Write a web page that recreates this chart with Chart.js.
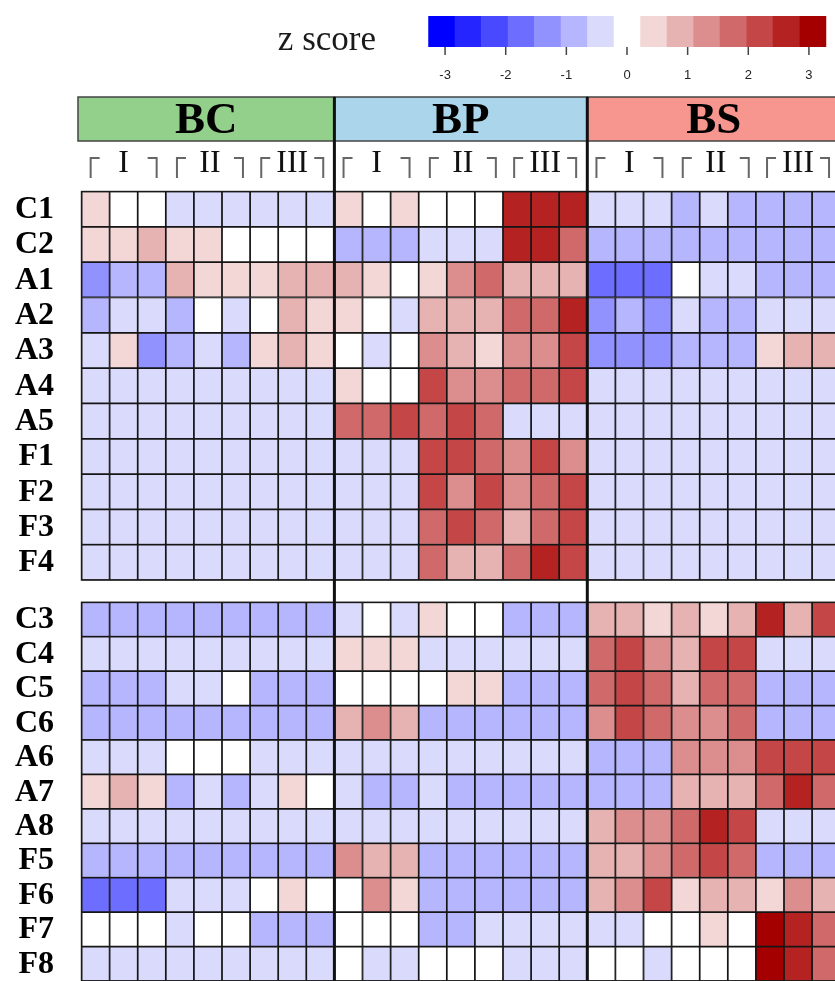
<!DOCTYPE html>
<html>
<head>
<meta charset="utf-8">
<script src="https://cdn.jsdelivr.net/npm/chart.js@4.4.1/dist/chart.umd.min.js"></script>
<style>
  html, body { margin: 0; padding: 0; overflow: hidden; background: #ffffff; width: 835px; height: 981px; }
  #heat { position: absolute; left: 0; top: 0; }
</style>
</head>
<body>
<canvas id="heat" width="852" height="981"></canvas>
<script>
// ---------------- data ----------------
const groups = ['BC', 'BP', 'BS'];
const stages = ['I', 'II', 'III'];
const replicates = ['1', '2', '3'];
const rowsTop = ['C1', 'C2', 'A1', 'A2', 'A3', 'A4', 'A5', 'F1', 'F2', 'F3', 'F4'];
const rowsBottom = ['C3', 'C4', 'C5', 'C6', 'A6', 'A7', 'A8', 'F5', 'F6', 'F7', 'F8'];

// z scores, one row per compound (rowsTop then rowsBottom), 9 samples (I x3, II x3, III x3)
const zBC = [
  [0.4, 0, 0, -0.4, -0.4, -0.4, -0.4, -0.4, -0.4],
  [0.4, 0.4, 0.9, 0.4, 0.4, 0, 0, 0, 0],
  [-1.3, -0.9, -0.9, 0.9, 0.4, 0.4, 0.4, 0.9, 0.9],
  [-0.9, -0.4, -0.4, -0.9, 0, -0.4, 0, 0.9, 0.4],
  [-0.4, 0.4, -1.3, -0.9, -0.4, -0.9, 0.4, 0.9, 0.4],
  [-0.4, -0.4, -0.4, -0.4, -0.4, -0.4, -0.4, -0.4, -0.4],
  [-0.4, -0.4, -0.4, -0.4, -0.4, -0.4, -0.4, -0.4, -0.4],
  [-0.4, -0.4, -0.4, -0.4, -0.4, -0.4, -0.4, -0.4, -0.4],
  [-0.4, -0.4, -0.4, -0.4, -0.4, -0.4, -0.4, -0.4, -0.4],
  [-0.4, -0.4, -0.4, -0.4, -0.4, -0.4, -0.4, -0.4, -0.4],
  [-0.4, -0.4, -0.4, -0.4, -0.4, -0.4, -0.4, -0.4, -0.4],
  [-0.9, -0.9, -0.9, -0.9, -0.9, -0.9, -0.9, -0.9, -0.9],
  [-0.4, -0.4, -0.4, -0.4, -0.4, -0.4, -0.4, -0.4, -0.4],
  [-0.9, -0.9, -0.9, -0.4, -0.4, 0, -0.9, -0.9, -0.9],
  [-0.9, -0.9, -0.9, -0.9, -0.9, -0.9, -0.9, -0.9, -0.9],
  [-0.4, -0.4, -0.4, 0, 0, 0, -0.4, -0.4, -0.4],
  [0.4, 0.9, 0.4, -0.9, -0.4, -0.9, -0.4, 0.4, 0],
  [-0.4, -0.4, -0.4, -0.4, -0.4, -0.4, -0.4, -0.4, -0.4],
  [-0.9, -0.9, -0.9, -0.9, -0.9, -0.9, -0.9, -0.9, -0.9],
  [-1.8, -1.8, -1.8, -0.4, -0.4, -0.4, 0, 0.4, 0],
  [0, 0, 0, -0.4, 0, 0, -0.9, -0.9, -0.9],
  [-0.4, -0.4, -0.4, -0.4, -0.4, -0.4, -0.4, -0.4, -0.4]
];
const zBP = [
  [0.4, 0, 0.4, 0, 0, 0, 2.6, 2.6, 2.6],
  [-0.9, -0.9, -0.9, -0.4, -0.4, -0.4, 2.6, 2.6, 1.8],
  [0.9, 0.4, 0, 0.4, 1.3, 1.8, 0.9, 0.9, 0.9],
  [0.4, 0, -0.4, 0.9, 0.9, 0.9, 1.8, 1.8, 2.6],
  [0, -0.4, 0, 1.3, 0.9, 0.4, 1.3, 1.3, 2.2],
  [0.4, 0, 0, 2.2, 1.3, 1.3, 1.8, 1.8, 2.2],
  [1.8, 1.8, 2.2, 1.8, 2.2, 1.8, -0.4, -0.4, -0.4],
  [-0.4, -0.4, -0.4, 2.2, 2.2, 1.8, 1.3, 2.2, 1.3],
  [-0.4, -0.4, -0.4, 2.2, 1.3, 2.2, 1.3, 1.8, 2.2],
  [-0.4, -0.4, -0.4, 1.8, 2.2, 1.8, 0.9, 1.8, 2.2],
  [-0.4, -0.4, -0.4, 1.8, 0.9, 0.9, 1.8, 2.6, 2.2],
  [-0.4, 0, -0.4, 0.4, 0, 0, -0.9, -0.9, -0.9],
  [0.4, 0.4, 0.4, -0.4, -0.4, -0.4, -0.4, -0.4, -0.4],
  [0, 0, 0, 0, 0.4, 0.4, -0.9, -0.9, -0.9],
  [0.9, 1.3, 0.9, -0.9, -0.9, -0.9, -0.9, -0.9, -0.9],
  [-0.4, -0.4, -0.4, -0.4, -0.4, -0.4, -0.4, -0.4, -0.4],
  [-0.4, -0.9, -0.9, -0.4, -0.9, -0.9, -0.9, -0.9, -0.9],
  [-0.4, -0.4, -0.4, -0.4, -0.4, -0.4, -0.4, -0.4, -0.4],
  [1.3, 0.9, 0.9, -0.9, -0.9, -0.9, -0.9, -0.9, -0.9],
  [0, 1.3, 0.4, -0.9, -0.9, -0.9, -0.9, -0.9, -0.9],
  [0, 0, 0, -0.9, -0.9, -0.4, -0.4, -0.4, -0.4],
  [0, -0.4, -0.4, 0, 0, 0, -0.4, -0.4, -0.4]
];
const zBS = [
  [-0.4, -0.4, -0.4, -0.9, -0.4, -0.9, -0.9, -0.9, -0.9],
  [-0.9, -0.9, -0.9, -0.9, -0.9, -0.9, -0.9, -0.9, -0.9],
  [-1.8, -1.8, -1.8, 0, -0.4, -0.4, -0.9, -0.9, -0.9],
  [-1.3, -0.9, -1.3, -0.4, -0.9, -0.9, -0.4, -0.4, -0.4],
  [-1.3, -1.3, -1.3, -0.9, -0.9, -0.9, 0.4, 0.9, 0.9],
  [-0.4, -0.4, -0.4, -0.4, -0.4, -0.4, -0.4, -0.4, -0.4],
  [-0.4, -0.4, -0.4, -0.4, -0.4, -0.4, -0.4, -0.4, -0.4],
  [-0.4, -0.4, -0.4, -0.4, -0.4, -0.4, -0.4, -0.4, -0.4],
  [-0.4, -0.4, -0.4, -0.4, -0.4, -0.4, -0.4, -0.4, -0.4],
  [-0.4, -0.4, -0.4, -0.4, -0.4, -0.4, -0.4, -0.4, -0.4],
  [-0.4, -0.4, -0.4, -0.4, -0.4, -0.4, -0.4, -0.4, -0.4],
  [0.9, 0.9, 0.4, 0.9, 0.4, 0.9, 2.6, 0.9, 2.2],
  [1.8, 2.2, 1.3, 0.9, 2.2, 2.2, -0.4, -0.4, -0.4],
  [1.8, 2.2, 1.8, 0.9, 1.8, 1.8, -0.9, -0.9, -0.9],
  [1.3, 2.2, 1.8, 1.3, 1.3, 1.8, -0.9, -0.9, -0.9],
  [-0.9, -0.9, -0.9, 1.3, 1.3, 1.3, 2.2, 2.2, 2.2],
  [-0.9, -0.9, -0.9, 0.9, 0.9, 0.9, 1.8, 2.6, 1.8],
  [0.9, 1.3, 1.3, 1.8, 2.6, 2.2, -0.4, -0.4, -0.4],
  [0.9, 0.9, 1.3, 1.8, 2.2, 1.8, -0.9, -0.9, -0.9],
  [0.9, 1.3, 2.2, 0.4, 0.9, 0.9, 0.4, 1.3, 0.9],
  [-0.4, -0.4, 0, 0, 0.4, 0, 3.1, 2.6, 1.8],
  [0, 0, -0.4, 0, 0, 0, 3.1, 2.6, 1.8]
];

const legendTicks = [-3, -2, -1, 0, 1, 2, 3];
const legendTickLabels = ['-3', '-2', '-1', '0', '1', '2', '3'];
const palette = ['#0000FF', '#2525FF', '#4949FF', '#6D6DFF', '#9292FF', '#B6B6FF', '#DADAFC',
                 '#FFFFFF',
                 '#F3D6D6', '#E7B2B2', '#DC8E8E', '#D06A6A', '#C44646', '#B52222', '#A50000'];
const zStep = 0.437;   // z-score width of one colour step

// ---------------- helpers ----------------
function colorFor(z) {
  const k = Math.max(-7, Math.min(7, Math.round(z / zStep)));
  return palette[k + 7];
}
const columnLabels = groups.flatMap(g => stages.flatMap(s => replicates.map(r => g + ' ' + s + '-' + r)));
const allRows = rowsTop.concat(rowsBottom);

const datasets = allRows.map((name, i) => {
  const isTop = i < rowsTop.length;
  const r = isTop ? i : i - rowsTop.length;
  const z = zBC[i].concat(zBP[i], zBS[i]);
  return {
    label: name,
    yAxisID: isTop ? 'yTop' : 'yBot',
    data: z.map(() => [r, r + 1]),
    zValues: z,
    backgroundColor: z.map(colorFor),
    borderColor: '#161616',
    borderWidth: 1.2,
    borderSkipped: false,
    grouped: false,
    barPercentage: 1,
    categoryPercentage: 1
  };
});

const headerColors = ['#93D08B', '#AAD5EA', '#F6968F'];

const decor = {
  id: 'decor',
  beforeDraw(chart) {
    const ctx = chart.ctx;
    ctx.save();
    ctx.fillStyle = '#ffffff';
    ctx.fillRect(0, 0, chart.width, chart.height);
    ctx.restore();
  },
  afterDraw(chart) {
    const ctx = chart.ctx;
    const x = chart.scales.x, yT = chart.scales.yTop, yB = chart.scales.yBot;
    const w = x.getPixelForValue(1) - x.getPixelForValue(0);
    const edge = c => (c < columnLabels.length ? x.getPixelForValue(c) - w / 2 : x.getPixelForValue(columnLabels.length - 1) + w / 2);
    ctx.save();

    // ---- legend colour bar ----
    const boxW = 26.5, legTop = 16, legH = 31;
    const unitPx = boxW / zStep;
    const cx0 = 627;
    palette.forEach((col, k) => {
      ctx.fillStyle = col;
      ctx.fillRect(cx0 + (k - 7.5) * boxW, legTop, boxW + 0.5, legH);
    });
    ctx.strokeStyle = '#444';
    ctx.lineWidth = 1.5;
    ctx.fillStyle = '#222';
    ctx.font = '13px "Liberation Sans", Arial, sans-serif';
    ctx.textAlign = 'center';
    ctx.textBaseline = 'middle';
    legendTicks.forEach((v, i) => {
      const px = cx0 + v * unitPx;
      ctx.beginPath();
      ctx.moveTo(px, legTop + legH);
      ctx.lineTo(px, legTop + legH + 8);
      ctx.stroke();
      ctx.fillText(legendTickLabels[i], px, 75);
    });
    ctx.fillStyle = '#1a1a1a';
    ctx.font = '35px "Liberation Serif", "Times New Roman", serif';
    ctx.textAlign = 'right';
    ctx.textBaseline = 'alphabetic';
    ctx.fillText('z score', 376, 50);

    // ---- group header boxes ----
    groups.forEach((g, gi) => {
      const x0 = edge(gi * 9) - (gi === 0 ? 3.5 : 0);
      const x1 = edge(gi * 9 + 9);
      ctx.fillStyle = headerColors[gi];
      ctx.fillRect(x0, 97, x1 - x0, 44);
      ctx.strokeStyle = '#444';
      ctx.lineWidth = 1.5;
      ctx.strokeRect(x0, 97, x1 - x0, 44);
      ctx.fillStyle = '#000';
      ctx.font = 'bold 45px "Liberation Serif", "Times New Roman", serif';
      ctx.textAlign = 'center';
      ctx.fillText(g, (x0 + x1) / 2, 133);
      // stage labels with brackets
      stages.forEach((s, si) => {
        const cx = edge(gi * 9 + si * 3) + 1.5 * w + (si === 1 ? 2 : 0);
        ctx.fillStyle = '#111';
        ctx.font = '32px "Liberation Serif", "Times New Roman", serif';
        ctx.fillText(s, cx, 172);
        const d = si === 2 ? 31 : 33;
        ctx.strokeStyle = '#666';
        ctx.lineWidth = 2;
        ctx.beginPath();
        ctx.moveTo(cx - d, 178); ctx.lineTo(cx - d, 158); ctx.lineTo(cx - d + 9, 158);
        ctx.moveTo(cx + d, 178); ctx.lineTo(cx + d, 158); ctx.lineTo(cx + d - 9, 158);
        ctx.stroke();
      });
    });

    // ---- row labels ----
    ctx.fillStyle = '#000';
    ctx.font = 'bold 32px "Liberation Serif", "Times New Roman", serif';
    ctx.textAlign = 'right';
    ctx.textBaseline = 'alphabetic';
    rowsTop.forEach((n, r) => ctx.fillText(n, 54, yT.getPixelForValue(r + 0.5) + 9));
    rowsBottom.forEach((n, r) => ctx.fillText(n, 54, yB.getPixelForValue(r + 0.5) + 9));

    // ---- block outlines ----
    ctx.strokeStyle = '#1a1a1a';
    ctx.lineWidth = 1.4;
    const L = edge(0), R = edge(columnLabels.length);
    ctx.strokeRect(L, yT.getPixelForValue(0), R - L, yT.getPixelForValue(rowsTop.length) - yT.getPixelForValue(0));
    ctx.strokeRect(L, yB.getPixelForValue(0), R - L, yB.getPixelForValue(rowsBottom.length) - yB.getPixelForValue(0));

    // ---- group separators ----
    ctx.strokeStyle = '#111';
    ctx.lineWidth = 3;
    [9, 18].forEach(c => {
      const px = edge(c);
      ctx.beginPath();
      ctx.moveTo(px, 97);
      ctx.lineTo(px, chart.height);
      ctx.stroke();
    });
    ctx.restore();
  }
};

new Chart(document.getElementById('heat'), {
  type: 'bar',
  data: { labels: columnLabels, datasets },
  options: {
    responsive: false,
    animation: false,
    devicePixelRatio: 1,
    layout: { padding: { left: 81.5, right: 11.8, top: 191.5, bottom: 0 } },
    plugins: { legend: { display: false }, tooltip: { enabled: false } },
    scales: {
      x: { type: 'category', display: false, offset: true, grid: { display: false } },
      yTop: { type: 'linear', display: false, reverse: true, min: 0, max: 22.35 },
      yBot: { type: 'linear', display: false, reverse: true, min: -11.93, max: 11 }
    }
  },
  plugins: [decor]
});
</script>
</body>
</html>
